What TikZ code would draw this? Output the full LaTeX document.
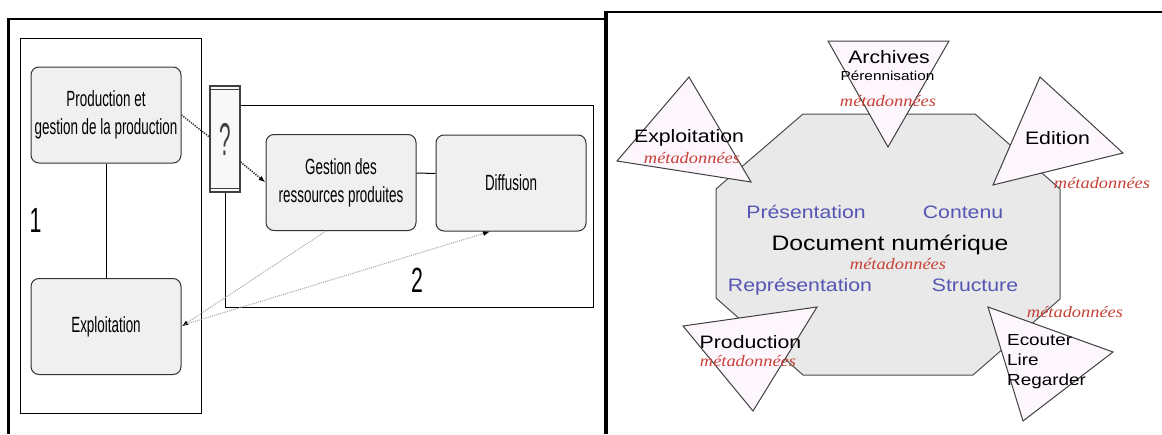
\documentclass[tikz,border=0pt]{standalone}
\usepackage{fontspec}
\setmainfont{Liberation Sans}
\newfontfamily\nsans[FakeStretch=0.61]{Liberation Sans}
\newfontfamily\qsans[FakeStretch=0.45]{Liberation Sans}
\newfontfamily\wsans[FakeStretch=1.18]{Liberation Sans}
\newfontfamily\wserif[FakeStretch=1.15]{Liberation Serif}
\usetikzlibrary{arrows.meta}
\definecolor{lgray}{RGB}{240,240,240}
\definecolor{qfill}{RGB}{248,248,248}
\definecolor{octgray}{RGB}{233,233,233}
\definecolor{tripink}{RGB}{253,246,253}
\definecolor{lblue}{RGB}{85,85,180}
\definecolor{mred}{RGB}{200,65,55}
\tikzset{
  lbox/.style={draw=black!80, fill=lgray, rounded corners=8pt, line width=1pt,
    minimum width=150pt, minimum height=96pt, inner sep=0pt, align=center,
    font=\nsans\fontsize{22}{28}\selectfont},
  frameline/.style={line width=2.5pt, black},
  thinrect/.style={line width=1pt, black},
  darkdots/.style={black!80, line width=1.6pt, dash pattern=on 1.2pt off 1.2pt},
  graydots/.style={black!35, line width=1pt, dash pattern=on 1pt off 1pt},
  tip/.style={-{Latex[length=7pt,width=5pt,color=black]}},
  tri/.style={draw=black!75, fill=tripink, line width=1pt},
  blab/.style={inner sep=0pt, text=black, font=\wsans\fontsize{18}{20}\selectfont},
  bluelab/.style={inner sep=0pt, text=lblue, font=\wsans\fontsize{18}{20}\selectfont},
  meta/.style={inner sep=0pt, text=mred, font=\wserif\itshape\fontsize{16}{18}\selectfont},
  bignum/.style={inner sep=0pt, font=\nsans\fontsize{35}{35}\selectfont}
}
\begin{document}
\begin{tikzpicture}[x=1pt,y=-1pt]
\useasboundingbox (0,0) rectangle (1162,434);
% outer frames
\draw[frameline] (8.5,434) -- (8.5,19) -- (606,19);
\draw[frameline] (606,12) -- (1162,12);
\draw[black, line width=4pt] (606,10.75) -- (606,434);
% ===== left diagram =====
\draw[thinrect] (20,38) rectangle (201,413);
\node[lbox] (prod) at (106,115) {Production et\\gestion de la production};
\node[lbox] (expl) at (106,326.5) {Exploitation};
\node[lbox] (gest) at (341,182.5) {Gestion des\\ressources produites};
\node[lbox] (diff) at (511,183) {Diffusion};
\node[draw=black!75, fill=qfill, line width=1.3pt, minimum width=30pt, minimum height=106pt,
  inner sep=0pt, text=black!75, font=\qsans\fontsize{46}{46}\selectfont] (q) at (225,139) {?};
\draw[black!75, line width=1pt] ([yshift=-4pt]q.north west) -- ([yshift=-4pt]q.north east);
\draw[black!75, line width=1pt] ([yshift=4pt]q.south west) -- ([yshift=4pt]q.south east);
\draw[thinrect] (q.east |- 0,105) -- (593,105) -- (593,307) -- (225,307) -- (q.south);
\draw[line width=1pt] (prod) -- (expl);
\draw[line width=1pt] ([yshift=9.5pt]gest.east) -- ([yshift=9.5pt]diff.west);
\draw[darkdots] (prod.east) -- ([yshift=2pt]q.west);
\draw[darkdots, tip] ([yshift=-23pt]q.east) -- (gest.west);
\draw[graydots, tip] ([xshift=-15pt]gest.south) -- (expl.east);
\draw[graydots, tip] ([yshift=1pt]expl.east) -- ([xshift=-21pt]diff.south);
\node[bignum] (n1) at (35.5,220.5) {1};
\node[bignum] (n2) at (417,280) {2};
% ===== right diagram =====
\filldraw[draw=black!70, fill=octgray, line width=1pt]
  (803,114) -- (975,114) -- (1060,189) -- (1060,299) -- (973,375) -- (803,375) -- (716,298) -- (716,189) -- cycle;
\filldraw[tri] (689,77) -- (617,161) -- (751,182) -- cycle;
\filldraw[tri] (828,41) -- (949,41) -- (888,147) -- cycle;
\filldraw[tri] (1040,77) -- (1123,153) -- (993,185) -- cycle;
\filldraw[tri] (683,326) -- (817,307) -- (753,411) -- cycle;
\filldraw[tri] (988,307) -- (1113,352) -- (1023,421) -- cycle;
\node[blab] (arch) at (889,57) {Archives};
\node[blab, font=\wsans\fontsize{13}{15}\selectfont] (peren) at (887.5,76) {Pérennisation};
\node[meta] (m1) at (888,101) {métadonnées};
\node[blab] (exploit) at (689,138) {Exploitation};
\node[meta] (m2) at (692,158) {métadonnées};
\node[blab] (edit) at (1057.5,138) {Edition};
\node[meta] (m3) at (1102,183) {métadonnées};
\node[bluelab, anchor=base] (pres) at (806,218.5) {Présentation};
\node[bluelab, anchor=base] (cont) at (963,218.5) {Contenu};
\node[blab, font=\wsans\fontsize{21}{24}\selectfont] (doc) at (890,245) {Document numérique};
\node[meta] (m4) at (898,264) {métadonnées};
\node[bluelab, anchor=base] (repr) at (800,291.5) {Représentation};
\node[bluelab, anchor=base] (struc) at (975,291.5) {Structure};
\node[blab] (prodr) at (750.5,342) {Production};
\node[meta] (m5) at (748,361) {métadonnées};
\node[meta] (m6) at (1075,312) {métadonnées};
\node[blab, anchor=west, align=left, font=\wsans\fontsize{16}{20}\selectfont] (ecout) at (1007,362) {Ecouter\\Lire\\Regarder};
\end{tikzpicture}
\end{document}
